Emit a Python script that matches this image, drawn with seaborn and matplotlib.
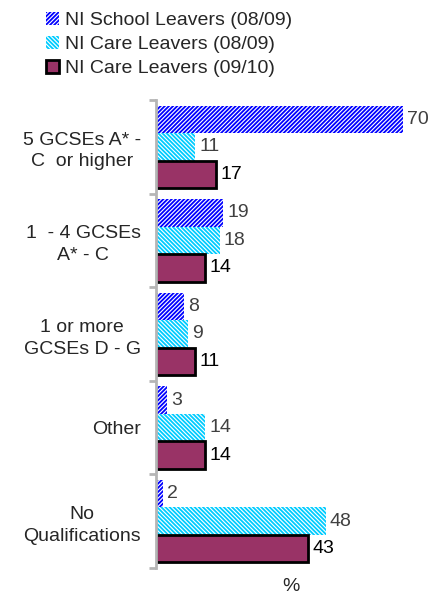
import matplotlib
matplotlib.use("Agg")
import matplotlib.pyplot as plt
import seaborn as sns
import pandas as pd
import numpy as np
from matplotlib.patches import Patch

categories = ["5 GCSEs A* -\nC  or higher", "1  - 4 GCSEs\nA* - C", "1 or more\nGCSEs D - G", "Other", "No\nQualifications"]
series = ["NI School Leavers (08/09)", "NI Care Leavers (08/09)", "NI Care Leavers (09/10)"]
school_0809 = [70, 19, 8, 3, 2]
care_0809 = [11, 18, 9, 14, 48]
care_0910 = [17, 14, 11, 14, 43]

sns.set_style("white")
plt.rcParams['font.family'] = ['Liberation Sans', 'DejaVu Sans']
plt.rcParams['hatch.linewidth'] = 1.3

df = pd.DataFrame({
    "category": categories * 3,
    "series": [series[0]] * 5 + [series[1]] * 5 + [series[2]] * 5,
    "value": school_0809 + care_0809 + care_0910,
})

fig = plt.figure(figsize=(4.29, 5.94), dpi=100)
ax = fig.add_axes([156/429, 1 - 568/594, 1 - 156/429, (568 - 100)/594])

sns.barplot(data=df, y="category", x="value", hue="series", orient="h",
            order=categories, hue_order=series, width=0.88, ax=ax, legend=False,
            palette=["white", "white", "#993366"])

blue_hatch = "////////"
cyan_hatch = "\\\\\\\\\\\\\\\\"
styles = [
    dict(hatch=blue_hatch, edgecolor="#0000ff", facecolor="white", linewidth=0),
    dict(hatch=cyan_hatch, edgecolor="#00ccff", facecolor="white", linewidth=0),
    dict(hatch=None, edgecolor="black", facecolor="#993366", linewidth=2),
]
label_colors = ["#404040", "#404040", "#000000"]
for cont, st, lc in zip(ax.containers, styles, label_colors):
    for p in cont.patches:
        p.set_facecolor(st["facecolor"])
        p.set_edgecolor(st["edgecolor"])
        p.set_linewidth(st["linewidth"])
        if st["hatch"]:
            p.set_hatch(st["hatch"])
    ax.bar_label(cont, padding=3, fontsize=14, color=lc)

ax.set_xlim(0, 77.3)
ax.set_ylim(4.5, -0.5)
for s in ["top", "right", "bottom"]:
    ax.spines[s].set_visible(False)
ax.spines["left"].set_color("#b5b5b5")
ax.spines["left"].set_linewidth(2)
ax.set_xticks([])
ax.set_xlabel("%", fontsize=14)
ax.xaxis.set_label_coords((291 - 156) / 273, -0.022)
ax.set_ylabel("")
ax.set_yticks(range(5))
ax.set_yticklabels(categories, fontsize=14, multialignment="center", linespacing=1.35)
ax.tick_params(axis="y", which="major", length=0, pad=11)
ax.set_yticks(np.arange(-0.5, 5, 1), minor=True)
ax.tick_params(axis="y", which="minor", left=True, length=5, width=2, color="#b5b5b5", direction="out")

handles = [
    Patch(facecolor="white", edgecolor="#0000ff", hatch=blue_hatch, linewidth=0),
    Patch(facecolor="white", edgecolor="#00ccff", hatch=cyan_hatch, linewidth=0),
    Patch(facecolor="#993366", edgecolor="black", linewidth=2),
]
fig.legend(handles, series, loc="upper left", bbox_to_anchor=(38/429, 1 - 4/594),
           frameon=False, fontsize=14, handlelength=0.7, handleheight=0.7,
           handletextpad=0.3, labelspacing=0.33, borderaxespad=0)

fig.savefig("out.png", dpi=100)
